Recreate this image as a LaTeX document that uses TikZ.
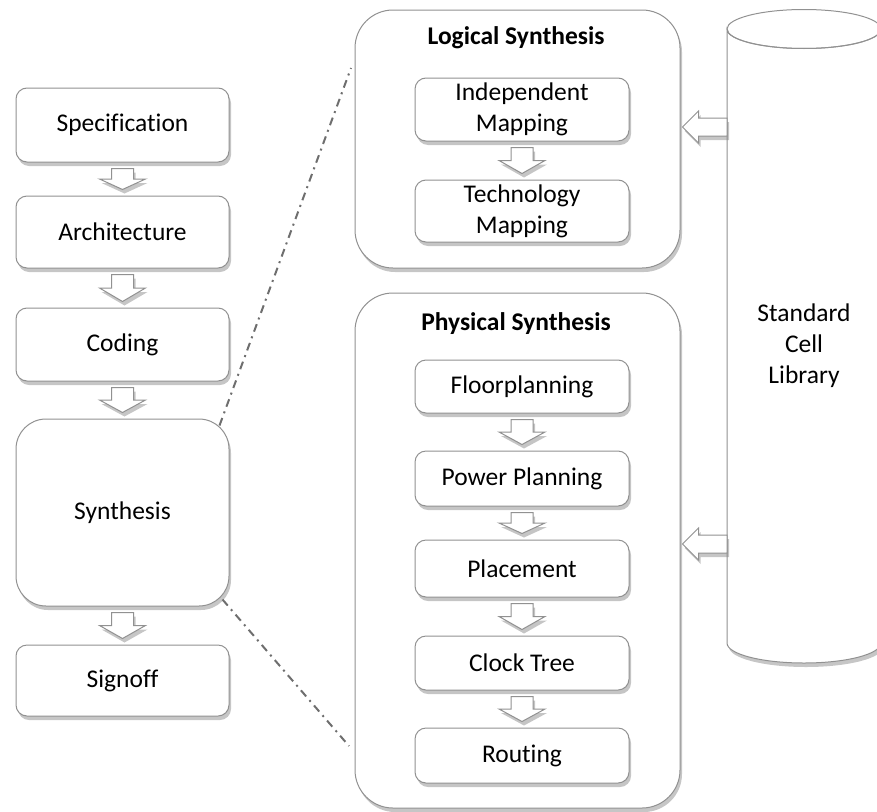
\documentclass[tikz,border=0pt]{standalone}
\usepackage{fontspec}
\setmainfont[Ligatures=NoCommon]{Carlito}
\usetikzlibrary{shadows,calc}
\definecolor{edge}{RGB}{145,145,145}
\definecolor{linkgray}{RGB}{110,110,110}

% downward block arrow between two stacked nodes
\newcommand\dnarrow[2]{%
  \path[barrow] let \p1=(#1.south), \p2=(#2.north),
    \p3=($(#1.south)!.5!(#2.north)$) in
    (\x1-11pt,\y1-6pt) -- (\x1+11pt,\y1-6pt) -- (\x1+11pt,\y3) --
    (\x1+23pt,\y3) -- (\x1,\y2+6pt) -- (\x1-23pt,\y3) --
    (\x1-11pt,\y3) -- cycle;}
% leftward block arrow from a tail coordinate to a node's east side
\newcommand\lfarrow[2]{%
  \path[barrow] let \p1=(#1), \p2=(#2.east) in
    (\x1,\y1+9pt) -- (\x2+18pt,\y1+9pt) -- (\x2+18pt,\y1+16pt) --
    (\x2+2pt,\y1) -- (\x2+18pt,\y1-16pt) -- (\x2+18pt,\y1-9pt) --
    (\x1,\y1-9pt) -- cycle;}

\begin{document}
\begin{tikzpicture}[x=1pt,y=-1pt,
  softshadow/.style={drop shadow={opacity=0.45,shadow xshift=2pt,shadow yshift=-4pt}},
  box/.style={draw=edge, fill=white, line width=1pt, rounded corners=11pt,
    softshadow, inner sep=0pt, align=center,
    font=\fontsize{25.5}{31}\selectfont},
  step box/.style={box, minimum width=213pt},
  inner box/.style={box, minimum width=214pt},
  group box/.style={box, rounded corners=38pt, minimum width=325pt},
  title/.style={font=\fontsize{25.5}{30}\selectfont\bfseries},
  barrow/.style={draw=edge, fill=white, line width=1pt, softshadow, line join=miter},
  linkline/.style={draw=linkgray, line width=2pt,
    dash pattern=on 8pt off 5pt on 2pt off 5pt}
]
\useasboundingbox (0,0) rectangle (877,811);

% design flow on the left
\node[step box, minimum height=74pt] (spec) at (122.5,125) {Specification};
\node[step box, minimum height=72pt] (arch) at (122.5,232) {Architecture};
\node[step box, minimum height=73pt] (code) at (122.5,344.5) {Coding};
\node[step box, minimum height=187pt, rounded corners=30pt] (synth) at (122.5,512.5) {Synthesis};
\node[step box, minimum height=71pt] (sign) at (122.5,680.5) {Signoff};

\dnarrow{spec}{arch}
\dnarrow{arch}{code}
\dnarrow{code}{synth}
\dnarrow{synth}{sign}

% logical synthesis group
\node[group box, minimum height=258pt] (logic) at (517.5,139) {};
\node[title] (ltitle) at (516,38) {Logical Synthesis};
\node[inner box, minimum height=63pt] (indep) at (522,109.5) {Independent\\Mapping};
\node[inner box, minimum height=62pt] (tech) at (522,211) {Technology\\Mapping};
\dnarrow{indep}{tech}

% physical synthesis group
\node[group box, minimum height=515pt] (phys) at (517.5,550.5) {};
\node[title] (ptitle) at (516,324) {Physical Synthesis};
\node[inner box, minimum height=53pt] (floor) at (522,386.5) {Floorplanning};
\node[inner box, minimum height=55pt] (power) at (522,478.5) {Power Planning};
\node[inner box, minimum height=57pt] (place) at (522,568.5) {Placement};
\node[inner box, minimum height=54pt] (clock) at (522,663) {Clock Tree};
\node[inner box, minimum height=55pt] (route) at (522,755.5) {Routing};
\dnarrow{floor}{power}
\dnarrow{power}{place}
\dnarrow{place}{clock}
\dnarrow{clock}{route}

% zoom lines from Synthesis to the two groups
\coordinate (ztop) at (351,68);
\coordinate (zbot) at (349,746);
\path[linkline] ($(synth.north east)+(-10,7)$) -- (ztop);
\path[linkline] ($(synth.south east)+(-7,-7)$) -- (zbot);

% standard cell library cylinder
\path[draw=edge, fill=white, line width=1pt, softshadow]
  (727,29) -- (727,643) arc[start angle=180, end angle=360, x radius=77pt, y radius=20pt]
  -- (881,29) arc[start angle=0, end angle=-180, x radius=77pt, y radius=19.5pt] -- cycle;
\draw[edge, line width=1pt] (804,29) ellipse [x radius=77pt, y radius=19.5pt];
\node[align=center, font=\fontsize{25.5}{31}\selectfont] (lib) at (804,346) {Standard\\Cell\\Library};

\coordinate (libA) at (727,127);
\coordinate (libB) at (727,544);
\lfarrow{libA}{logic}
\lfarrow{libB}{phys}
\end{tikzpicture}
\end{document}
